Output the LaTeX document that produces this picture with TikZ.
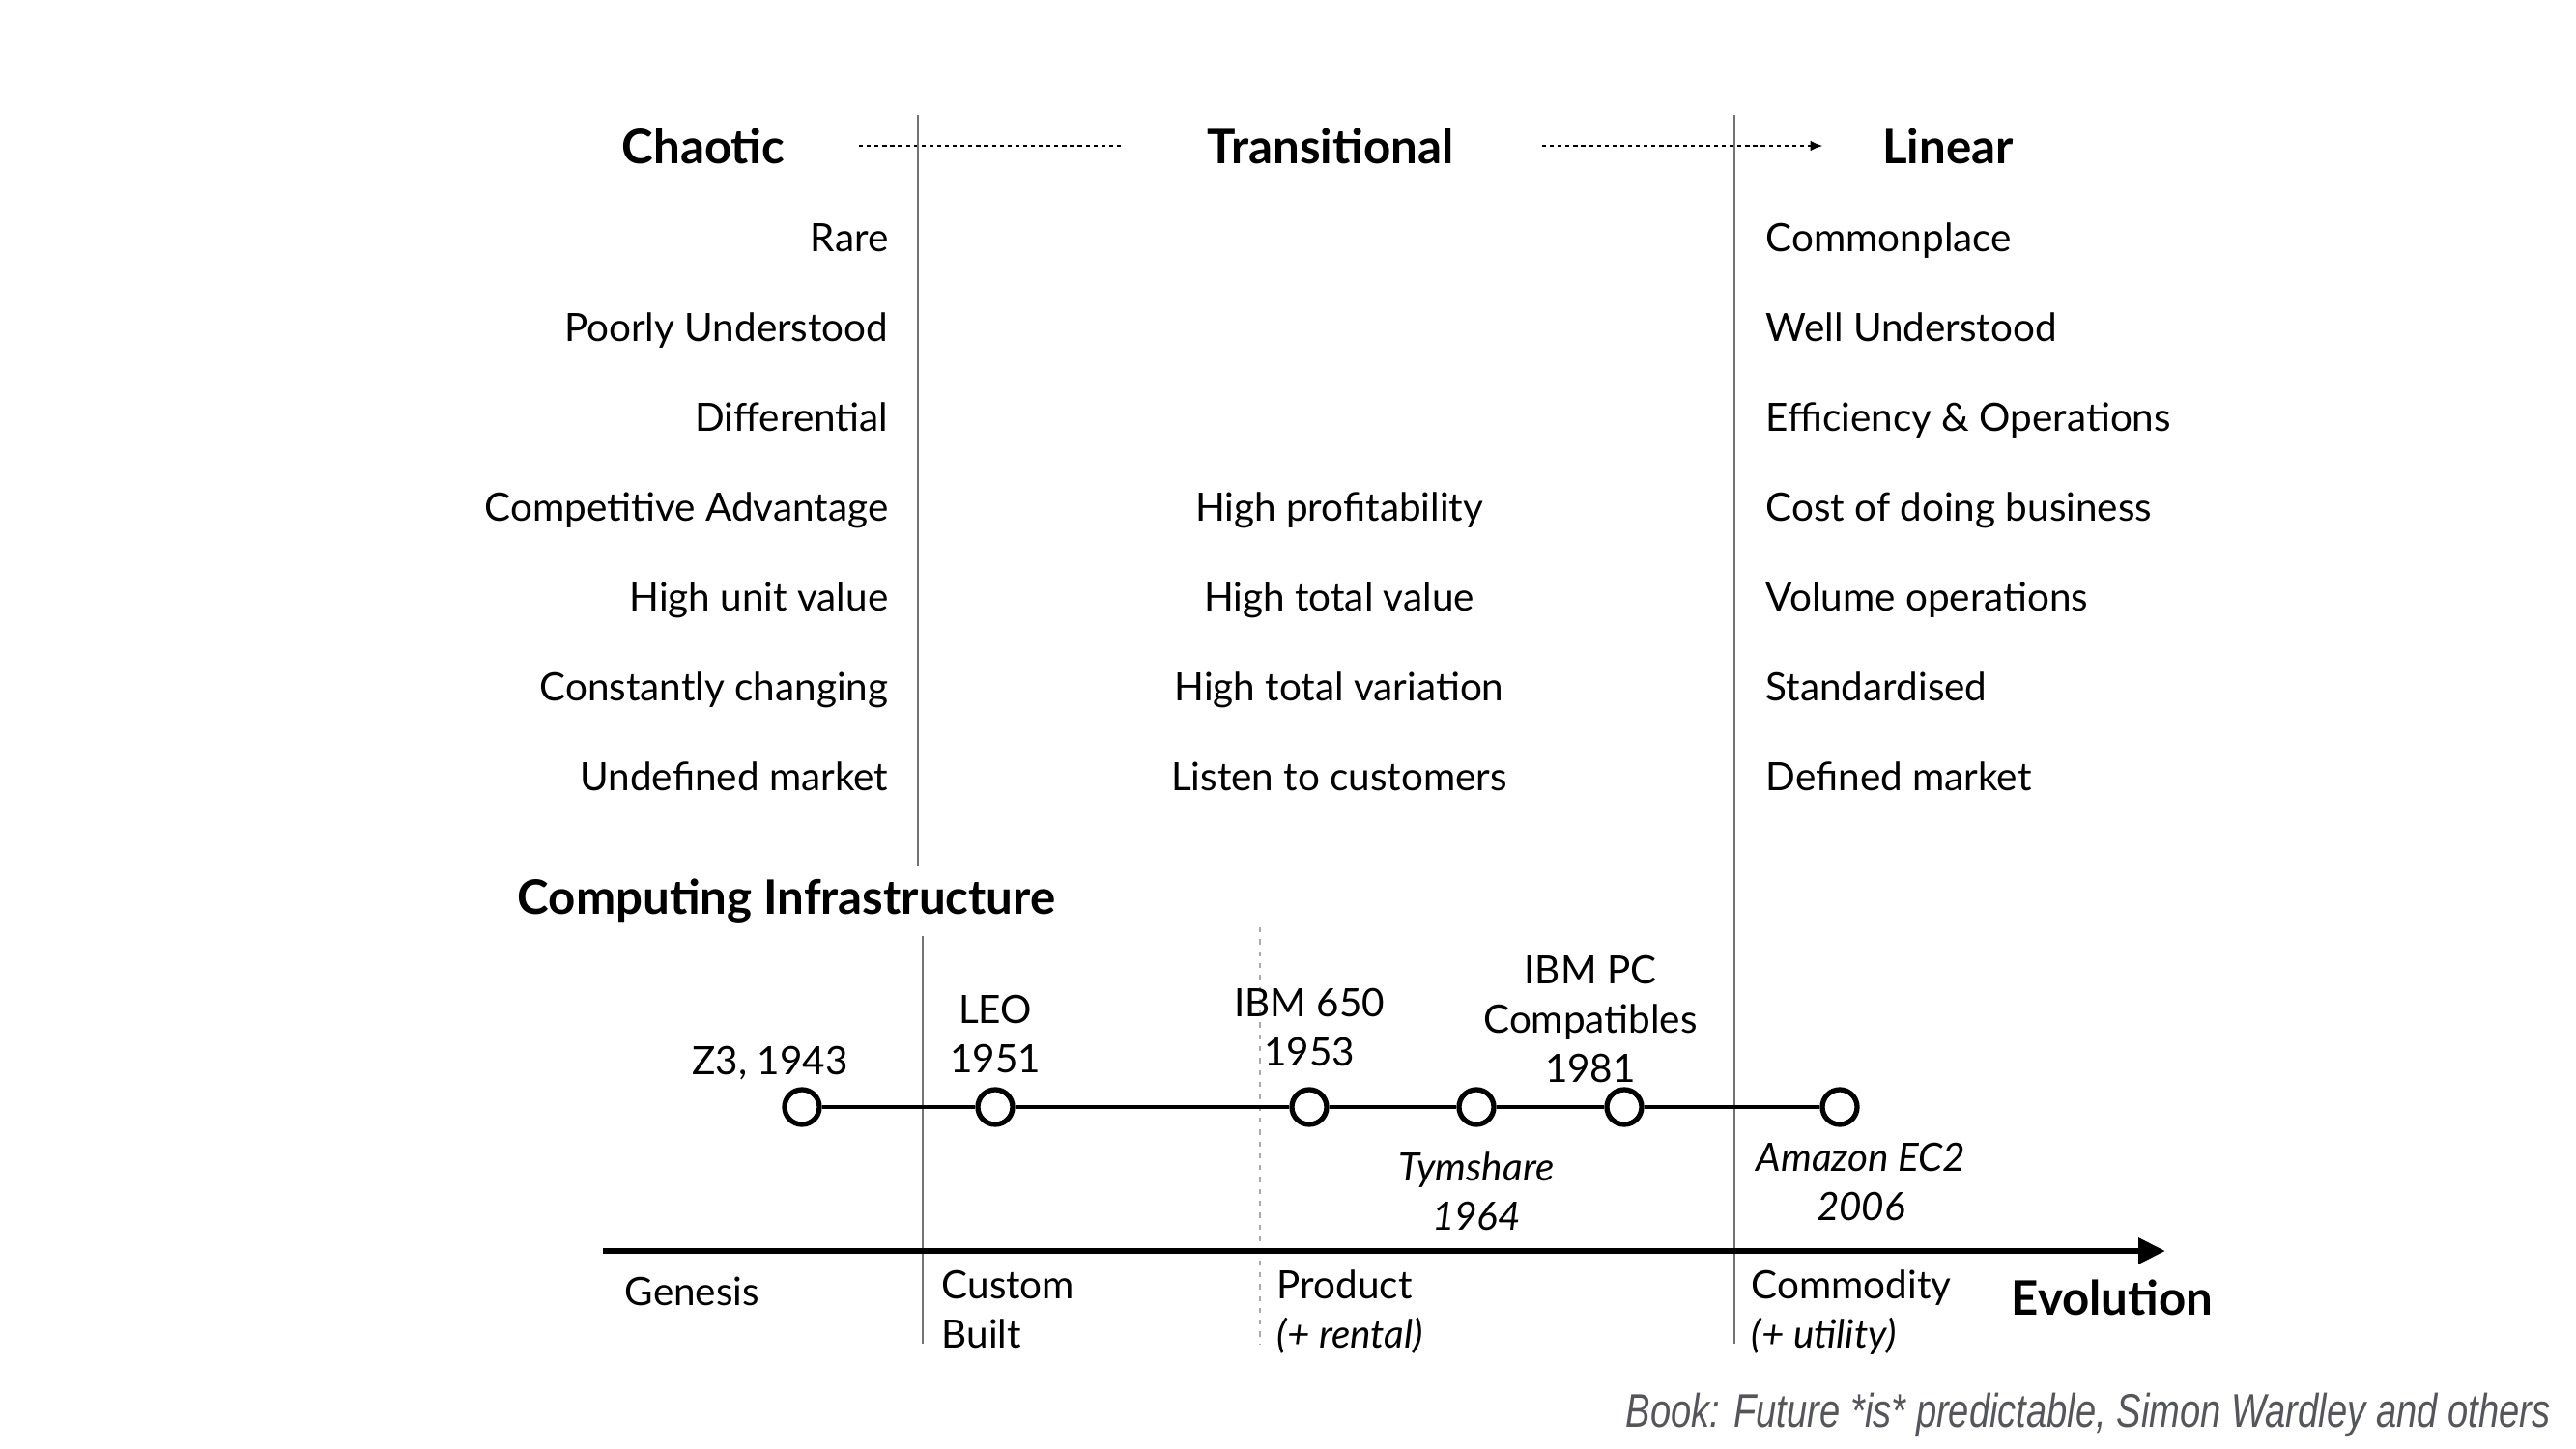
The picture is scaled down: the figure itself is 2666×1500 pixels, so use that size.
\documentclass[tikz,border=0pt]{standalone}
\usepackage{fontspec}
\setmainfont{Lato}
\newfontfamily\capfont[FakeStretch=0.78]{Liberation Sans}
\usetikzlibrary{positioning,arrows.meta}
\definecolor{rulegray}{RGB}{115,115,115}
\definecolor{captiongray}{RGB}{85,85,92}
\tikzstyle{every node}=[inner sep=0pt,font=\fontsize{11.5}{14.5}\selectfont]
\tikzstyle{head}=[font=\fontsize{14}{16}\selectfont\bfseries]
\tikzstyle{lefttext}=[anchor=mid east]
\tikzstyle{midtext}=[anchor=mid]
\tikzstyle{righttext}=[anchor=mid west]
\tikzstyle{flow}=[line width=0.8pt,dash pattern=on 1.2pt off 1.1pt]
\tikzstyle{rule}=[draw=rulegray,line width=0.6pt]
\tikzstyle{event}=[circle,draw=black,line width=1.5pt,fill=white,minimum size=0.36cm]
\tikzstyle{eventlabel}=[align=center]
\tikzstyle{timeline}=[line width=1pt]
\tikzstyle{evolution}=[line width=1.8pt,-{Triangle[length=0.28cm,width=0.26cm]}]
\tikzstyle{stage}=[anchor=north west,align=left]

\begin{document}
\begin{tikzpicture}[x=0.01cm,y=-0.01cm]
  \useasboundingbox (0,0) rectangle (2666,1500);
  \node[head] (chaotic) at (728,151) {Chaotic};
  \node[head] (transitional) at (1377,151) {Transitional};
  \node[head] (linear) at (2016,151) {Linear};
  \draw[flow,shorten <=0.76cm,shorten >=0.89cm] (chaotic.east) -- (transitional.west);
  \draw[flow,-{Latex[length=0.13cm,width=0.11cm]},shorten <=0.91cm,shorten >=0.61cm] (transitional.east) -- (linear.west);

  \foreach \txt [count=\i] in {Rare, Poorly Understood, Differential, Competitive Advantage,
      High unit value, Constantly changing, Undefined market}
    \node[lefttext] (chaos\i) at (920,{159+93*\i}) {\txt};
  \foreach \txt [count=\i from 4] in {High profitability, High total value,
      High total variation, Listen to customers}
    \node[midtext] (trans\i) at (1386,{159+93*\i}) {\txt};
  \foreach \txt [count=\i] in {Commonplace, Well Understood, Efficiency \& Operations,
      Cost of doing business, Volume operations, Standardised, Defined market}
    \node[righttext] (lin\i) at (1827,{159+93*\i}) {\txt};

  \draw[rule] (950,119) -- (950,896);
  \draw[rule] (955,969) -- (955,1391);
  \draw[rule] (1795,119) -- (1795,1391);
  \draw[rule,draw=rulegray!60,dash pattern=on 1.5pt off 2pt] (1304,960) -- (1304,1391);

  \node[head,anchor=mid west] (infra) at (535,938) {Computing Infrastructure};

  \node[event] (z3) at (830,1146) {};
  \node[event] (leo) at (1030,1146) {};
  \node[event] (ibm650) at (1355,1146) {};
  \node[event] (tym) at (1528,1146) {};
  \node[event] (ibmpc) at (1681,1146) {};
  \node[event] (ec2) at (1904,1146) {};
  \draw[timeline] (z3) -- (leo) -- (ibm650) -- (tym) -- (ibmpc) -- (ec2);

  \node[eventlabel,above=0.07cm of z3,xshift=-0.33cm] (z3txt) {Z3, 1943};
  \node[eventlabel,above=0.14cm of leo] (leotxt) {LEO\\1951};
  \node[eventlabel,above=0.21cm of ibm650] (ibm650txt) {IBM 650\\1953};
  \node[eventlabel,above=0.04cm of ibmpc,xshift=-0.35cm] (ibmpctxt) {IBM PC\\Compatibles\\1981};
  \node[eventlabel,below=0.25cm of tym,font=\fontsize{11.5}{14.5}\selectfont\itshape] (tymtxt) {Tymshare\\1964};
  \node[eventlabel,below=0.16cm of ec2,xshift=0.22cm,font=\fontsize{11.5}{14.5}\selectfont\itshape] (ec2txt) {Amazon EC2\\2006};

  \coordinate (evostart) at (624,1295);
  \coordinate (evoend) at (2241,1295);
  \draw[evolution] (evostart) -- (evoend);

  \node[stage] (genesis) at (646,1321) {Genesis};
  \node[stage] (custom) at (974,1314) {Custom\\Built};
  \node[stage] (product) at (1321,1314) {Product\\\textit{(+ rental)}};
  \node[stage] (commodity) at (1812,1314) {Commodity\\\textit{(+ utility)}};
  \node[head,anchor=mid west] (evolution) at (2081,1353) {Evolution};

  \node[anchor=mid east,text=captiongray,font=\capfont\itshape\fontsize{13.9}{16}\selectfont] (source) at (2640,1469)
    {Book: Future *is* predictable, Simon Wardley and others};
\end{tikzpicture}
\end{document}
